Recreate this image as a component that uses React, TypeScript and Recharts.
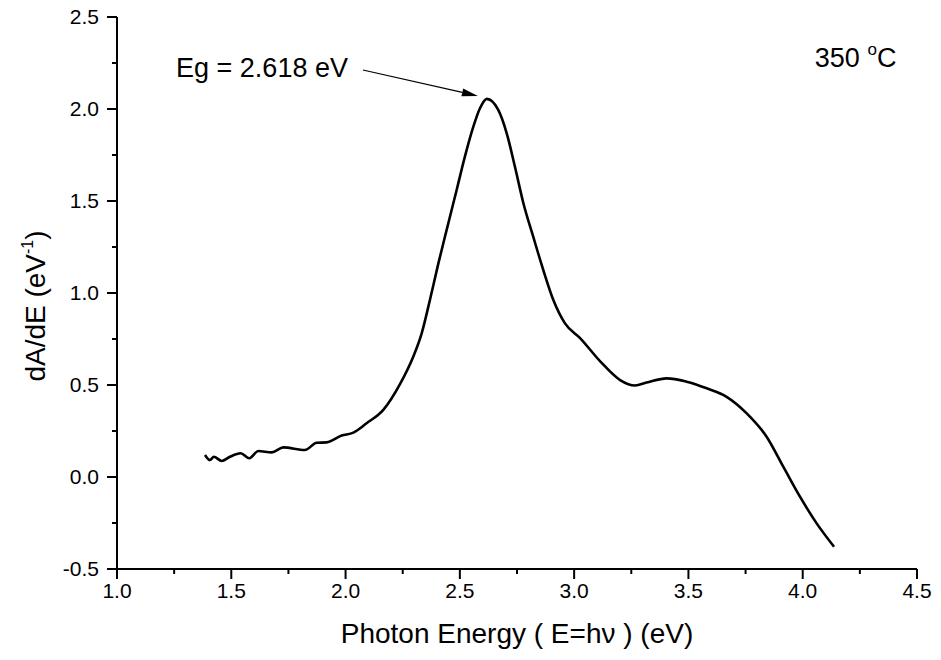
import React from 'react';
import { LineChart, Line, XAxis, YAxis, ReferenceLine, ReferenceDot } from 'recharts';

// photon energy (eV) and dA/dE (eV^-1)
const energy = [
  1.385, 1.407, 1.424, 1.458, 1.494, 1.541, 1.579, 1.618, 1.677, 1.728, 1.822, 1.874, 1.917,
  1.983, 2.034, 2.092, 2.165, 2.238, 2.296, 2.333, 2.369, 2.406, 2.442, 2.486, 2.522, 2.559,
  2.588, 2.618, 2.668, 2.705, 2.741, 2.778, 2.821, 2.865, 2.909, 2.96, 3.026, 3.113, 3.201,
  3.266, 3.317, 3.405, 3.492, 3.58, 3.667, 3.755, 3.842, 3.915, 3.988, 4.061, 4.137,
];
const dAdE = [
  0.12, 0.092, 0.11, 0.087, 0.11, 0.129, 0.102, 0.141, 0.134, 0.161, 0.147, 0.186, 0.188,
  0.225, 0.241, 0.292, 0.365, 0.505, 0.654, 0.781, 0.962, 1.161, 1.342, 1.56, 1.741, 1.904,
  2.004, 2.055, 1.995, 1.868, 1.686, 1.488, 1.306, 1.125, 0.962, 0.835, 0.755, 0.63, 0.527,
  0.497, 0.513, 0.536, 0.518, 0.482, 0.436, 0.346, 0.219, 0.056, -0.107, -0.252, -0.379,
];

const X_TICKS = [1.0, 1.25, 1.5, 1.75, 2.0, 2.25, 2.5, 2.75, 3.0, 3.25, 3.5, 3.75, 4.0, 4.25, 4.5];
const Y_TICKS = [-0.5, -0.25, 0.0, 0.25, 0.5, 0.75, 1.0, 1.25, 1.5, 1.75, 2.0, 2.25, 2.5];

// annotation anchors (data coords)
const EG_LABEL = 'Eg = 2.618 eV';
const EG_ARROW = [
  { x: 2.076, y: 2.212 },
  { x: 2.579, y: 2.071 },
];
const TEMP_POS = { x: 4.053, y: 2.23 };

const data = energy.map((e, i) => ({ e, v: dAdE[i] }));

const FONT = '"Liberation Sans", Arial, sans-serif';
const isMajor = (v: number) => Math.abs(v * 2 - Math.round(v * 2)) < 1e-6;

const BottomTick = (props: any) => {
  const { x, y, payload } = props;
  const major = isMajor(payload.value);
  const axisY = y - 14; // tickSize 10 + tickMargin 4
  return (
    <g>
      <line x1={x} y1={axisY} x2={x} y2={axisY + (major ? 10 : 5)} stroke="#000" strokeWidth={2} />
      {major && (
        <text x={x} y={y} dy="0.71em" textAnchor="middle" fontFamily={FONT} fontSize={21} fill="#000">
          {payload.value.toFixed(1)}
        </text>
      )}
    </g>
  );
};

const LeftTick = (props: any) => {
  const { x, y, payload } = props;
  const major = isMajor(payload.value);
  const axisX = x + 18; // tickSize 10 + tickMargin 8
  return (
    <g>
      <line x1={axisX} y1={y} x2={axisX - (major ? 10 : 5)} y2={y} stroke="#000" strokeWidth={2} />
      {major && (
        <text x={x} y={y} dy="0.355em" textAnchor="end" fontFamily={FONT} fontSize={21} fill="#000">
          {payload.value.toFixed(1)}
        </text>
      )}
    </g>
  );
};

const XLabel = (props: any) => {
  const vb = props.viewBox;
  return (
    <text x={vb.x + vb.width / 2} y={vb.y + 74} textAnchor="middle" fontFamily={FONT} fontSize={28} fill="#000">
      Photon Energy ( E=hν ) (eV)
    </text>
  );
};

const YLabel = (props: any) => {
  const vb = props.viewBox;
  const cx = vb.x - 2;
  const cy = vb.y + vb.height / 2 + 13;
  return (
    <text x={cx} y={cy} transform={`rotate(-90, ${cx}, ${cy})`} textAnchor="middle" fontFamily={FONT} fontSize={28} fill="#000">
      dA/dE (eV
      <tspan fontSize={16} dy={-12}>-1</tspan>
      <tspan dy={12}>)</tspan>
    </text>
  );
};

const EgArrow = (props: any) => {
  const { x1, y1, x2, y2 } = props;
  const ang = Math.atan2(y2 - y1, x2 - x1);
  const len = 16;
  const hw = 4;
  const bx = x2 - len * Math.cos(ang);
  const by = y2 - len * Math.sin(ang);
  const px = -Math.sin(ang) * hw;
  const py = Math.cos(ang) * hw;
  return (
    <g>
      <line x1={x1} y1={y1} x2={bx} y2={by} stroke="#000" strokeWidth={1.2} />
      <polygon points={`${x2},${y2} ${bx + px},${by + py} ${bx - px},${by - py}`} fill="#000" />
      <text x={x1 - 15} y={y1 + 7} textAnchor="end" fontFamily={FONT} fontSize={27} fill="#000">
        {EG_LABEL}
      </text>
    </g>
  );
};

const TempLabel = (props: any) => {
  const { cx, cy } = props;
  return (
    <text x={cx} y={cy} fontFamily={FONT} fontSize={27} fill="#000">
      350{' '}
      <tspan fontSize={17} dy={-12}>o</tspan>
      <tspan dy={12}>C</tspan>
    </text>
  );
};

export default function App() {
  return (
    <div style={{ position: 'absolute', left: 0, top: 0, background: '#fff' }}>
      <LineChart width={941} height={660} data={data} margin={{ top: 17, right: 24, bottom: 31, left: 47 }}>
        <XAxis
          dataKey="e"
          type="number"
          domain={[1, 4.5]}
          ticks={X_TICKS}
          interval={0}
          height={60}
          tickSize={10}
          tickMargin={4}
          tickLine={false}
          axisLine={{ stroke: '#000', strokeWidth: 2 }}
          tick={<BottomTick />}
          label={<XLabel />}
        />
        <XAxis
          xAxisId="top"
          orientation="top"
          type="number"
          domain={[1, 4.5]}
          ticks={X_TICKS}
          interval={0}
          height={0}
          mirror
          tick={false}
          tickSize={5}
          axisLine={{ stroke: '#000', strokeWidth: 2 }}
          tickLine={{ stroke: '#000', strokeWidth: 1.5 }}
        />
        <YAxis
          type="number"
          domain={[-0.5, 2.5]}
          ticks={Y_TICKS}
          interval={0}
          width={70}
          tickSize={10}
          tickMargin={8}
          tickLine={false}
          axisLine={{ stroke: '#000', strokeWidth: 2 }}
          tick={<LeftTick />}
          label={<YLabel />}
        />
        <YAxis
          yAxisId="right"
          orientation="right"
          type="number"
          domain={[-0.5, 2.5]}
          ticks={Y_TICKS}
          interval={0}
          width={0}
          mirror
          tick={false}
          tickSize={5}
          axisLine={{ stroke: '#000', strokeWidth: 2 }}
          tickLine={{ stroke: '#000', strokeWidth: 1.5 }}
        />
        <Line
          type="monotone"
          dataKey="v"
          stroke="#000"
          strokeWidth={2.6}
          dot={false}
          isAnimationActive={false}
        />
        <ReferenceLine segment={EG_ARROW} shape={<EgArrow />} ifOverflow="visible" />
        <ReferenceDot x={TEMP_POS.x} y={TEMP_POS.y} r={0} shape={<TempLabel />} ifOverflow="visible" />
      </LineChart>
    </div>
  );
}
